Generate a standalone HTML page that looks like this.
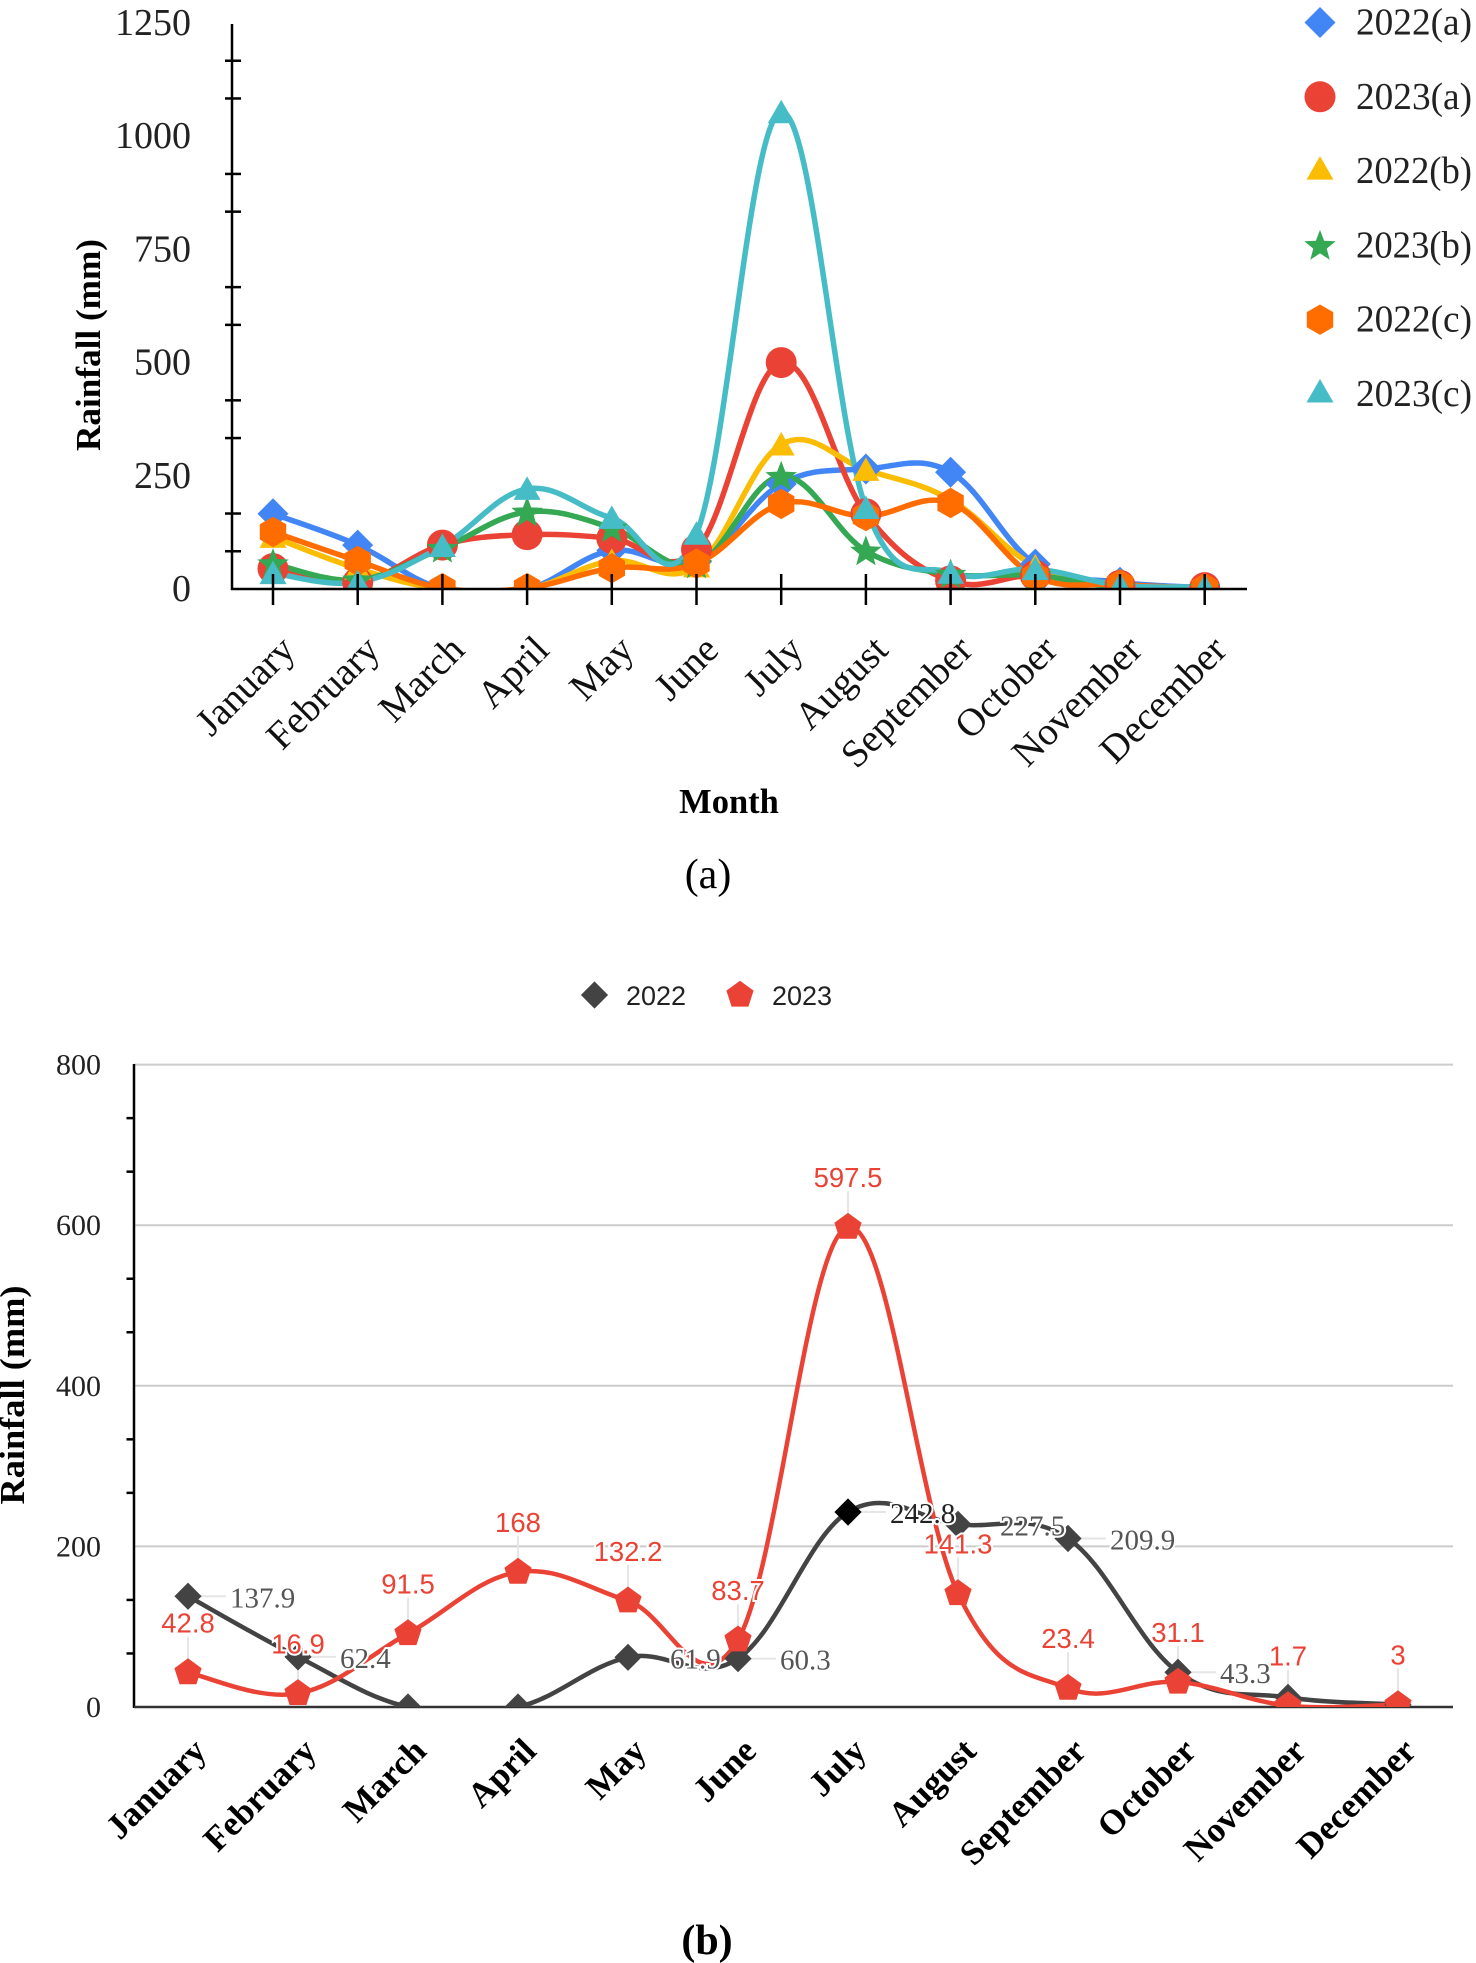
<!DOCTYPE html>
<html lang="en">
<head>
<meta charset="utf-8">
<title>Monthly rainfall charts</title>
<style>
html,body{margin:0;padding:0;background:#fff;width:1476px;height:1963px;overflow:hidden}
svg{display:block}
.serif{font-family:"Liberation Serif",serif}
.sans{font-family:"Liberation Sans",sans-serif}
</style>
</head>
<body>
<svg id="root" xmlns="http://www.w3.org/2000/svg" width="1476" height="1963" viewBox="0 0 1476 1963">
  <defs>
    <clipPath id="clipA"><rect x="0" y="0" width="1476" height="589"></rect></clipPath>
    <clipPath id="clipB"><rect x="0" y="0" width="1476" height="1707"></rect></clipPath>
  </defs>
  <g id="chartA"></g>
  <g id="chartB"></g>
  <text class="serif" transform="translate(100,345) rotate(-90)" text-anchor="middle" font-size="35" font-weight="bold" textLength="212" lengthAdjust="spacingAndGlyphs" fill="#000">Rainfall (mm)</text>
  <text class="serif" x="729" y="813" text-anchor="middle" font-size="34.5" font-weight="bold" fill="#000">Month</text>
  <text class="serif" x="708" y="888" text-anchor="middle" font-size="42" fill="#000">(a)</text>
  <text class="serif" transform="translate(24,1395) rotate(-90)" text-anchor="middle" font-size="35" font-weight="bold" textLength="219" lengthAdjust="spacingAndGlyphs" fill="#000">Rainfall (mm)</text>
  <text class="serif" x="707" y="1954" text-anchor="middle" font-size="42" font-weight="bold" fill="#000">(b)</text>
</svg>
<script>
var months = ["January","February","March","April","May","June","July","August","September","October","November","December"];

var a2022a = [166, 97, 0, 0, 85, 60, 232, 265, 258, 55, 15, 3];
var a2023a = [45, 14, 97, 120, 112, 87, 500, 166, 18, 30, 8, 3];
var a2022b = [115, 45, 0, 0, 62, 50, 319, 263, 197, 50, 10, 2];
var a2023b = [56, 20, 90, 170, 135, 55, 249, 84, 33, 30, 3, 2];
var a2022c = [126, 62, 2, 2, 46, 56, 188, 161, 190, 28, 10, 2];
var a2023c = [35, 15, 95, 221, 157, 122, 1053, 179, 36, 44, 8, 5];
var aTicks = [0, 250, 500, 750, 1000, 1250];

var b2022 = [137.9, 62.4, 0, 0, 61.9, 60.3, 242.8, 227.5, 209.9, 43.3, 12, 3];
var b2023 = [42.8, 16.9, 91.5, 168, 132.2, 83.7, 597.5, 141.3, 23.4, 31.1, 1.7, 3];
var b2022Labels = ["137.9", "62.4", "", "", "61.9", "60.3", "242.8", "227.5", "209.9", "43.3", "", ""];
var b2023Labels = ["42.8", "16.9", "91.5", "168", "132.2", "83.7", "597.5", "141.3", "23.4", "31.1", "1.7", "3"];
var bTicks = [0, 200, 400, 600, 800];

var NS = "http://www.w3.org/2000/svg";
var SMOOTH = 5.5;

function xA(i){ return 273 + 84.7 * i; }
function yA(v){ return 589 - v * 0.4528; }
function xB(i){ return 188 + 110.0 * i; }
function yB(v){ return 1707 - v * 0.803; }

function mk(parent, tag, attrs, txt){
  var el = document.createElementNS(NS, tag);
  for (var k in attrs) el.setAttribute(k, attrs[k]);
  if (txt !== undefined) el.textContent = txt;
  parent.appendChild(el);
  return el;
}
function smoothPath(vals, fx, fy){
  var p = vals.map(function(v,i){ return [fx(i), fy(v)]; });
  var d = "M" + p[0][0] + " " + p[0][1];
  function tan(i){
    var a = p[Math.max(i-1,0)], b = p[Math.min(i+1,p.length-1)];
    return [(b[0]-a[0])/SMOOTH, (b[1]-a[1])/SMOOTH];
  }
  for (var i=0;i<p.length-1;i++){
    var t0 = tan(i), t1 = tan(i+1);
    d += " C" + (p[i][0]+t0[0]) + " " + (p[i][1]+t0[1]) + " " + (p[i+1][0]-t1[0]) + " " + (p[i+1][1]-t1[1]) + " " + p[i+1][0] + " " + p[i+1][1];
  }
  return d;
}
function regular(cx, cy, n, r, rot){
  var s = [];
  for (var i=0;i<n;i++){
    var a = rot + i*2*Math.PI/n;
    s.push((cx+r*Math.cos(a)).toFixed(1)+","+(cy+r*Math.sin(a)).toFixed(1));
  }
  return s.join(" ");
}
function starPts(cx, cy, R, r){
  var s = [];
  for (var i=0;i<10;i++){
    var a = -Math.PI/2 + i*Math.PI/5, q = i%2 ? r : R;
    s.push((cx+q*Math.cos(a)).toFixed(1)+","+(cy+q*Math.sin(a)).toFixed(1));
  }
  return s.join(" ");
}
function marker(parent, shape, cx, cy, color, scale){
  var k = scale || 1;
  if (shape === "circle") return mk(parent, "circle", {cx:cx, cy:cy, r:15.5*k, fill:color});
  var pts = "";
  if (shape === "diamond") pts = regular(cx, cy, 4, 15.5*k, -Math.PI/2);
  if (shape === "triangle") pts = (cx)+","+(cy-12.5*k)+" "+(cx+13.5*k)+","+(cy+11*k)+" "+(cx-13.5*k)+","+(cy+11*k);
  if (shape === "star") pts = starPts(cx, cy+1, 16.5*k, 7*k);
  if (shape === "hexagon") pts = regular(cx, cy, 6, 15.2*k, -Math.PI/2);
  if (shape === "pentagon") pts = regular(cx, cy, 5, 14.3*k, -Math.PI/2);
  return mk(parent, "polygon", {points:pts, fill:color});
}

/* ---------- chart A ---------- */
var seriesA = [
  {id:"2022-a", label:"2022(a)", vals:a2022a, color:"#4285f4", shape:"diamond"},
  {id:"2023-a", label:"2023(a)", vals:a2023a, color:"#ea4335", shape:"circle"},
  {id:"2022-b", label:"2022(b)", vals:a2022b, color:"#fbbc04", shape:"triangle"},
  {id:"2023-b", label:"2023(b)", vals:a2023b, color:"#34a853", shape:"star"},
  {id:"2022-c", label:"2022(c)", vals:a2022c, color:"#ff6d01", shape:"hexagon"},
  {id:"2023-c", label:"2023(c)", vals:a2023c, color:"#46bdc6", shape:"triangle"}
];
var gA = document.getElementById("chartA");
var plotA = mk(gA, "g", {"clip-path":"url(#clipA)"});


seriesA.forEach(function(s){
  var line = mk(plotA, "path", {d:smoothPath(s.vals, xA, yA), fill:"none", stroke:s.color, "stroke-width":5.5, "stroke-linejoin":"round"});
  
  
});
seriesA.forEach(function(s){
  s.vals.forEach(function(v,i){
    var m = marker(plotA, s.shape, xA(i), yA(v), s.color);
    
    
  });
});
var axA = mk(gA, "g", {stroke:"#000", "stroke-width":2.5});


mk(axA, "line", {x1:232, y1:24, x2:232, y2:590});
mk(axA, "line", {x1:231, y1:589, x2:1247, y2:589});
for (var t=0;t<aTicks.length-1;t++){
  for (var j=1;j<=2;j++){
    var tv = aTicks[t] + (aTicks[t+1]-aTicks[t])*j/3;
    var tk = mk(axA, "line", {x1:225, x2:241, y1:yA(tv), y2:yA(tv)});
    
    
  }
}
months.forEach(function(m,i){
  var tk = mk(axA, "line", {x1:xA(i), x2:xA(i), y1:574, y2:605});
  
  
  var lb = mk(gA, "text", {"class":"serif", transform:"translate("+(xA(i)+24)+",652) rotate(-45)", "text-anchor":"end", "font-size":39, fill:"#111"}, m);
  
  
});
aTicks.forEach(function(v){
  var lb = mk(gA, "text", {"class":"serif", x:191, y:yA(v)+12, "text-anchor":"end", "font-size":38, fill:"#222"}, String(v));
  
  
});
seriesA.forEach(function(s,i){
  var ly = 22.5 + 74.3*i;
  var sw = marker(gA, s.shape, 1320, s.shape === "triangle" ? ly - 2.5 : ly, s.color);
  
  
  var tx = mk(gA, "text", {"class":"serif", x:1356, y:ly+12, "font-size":38, textLength:116, lengthAdjust:"spacingAndGlyphs", fill:"#222"}, s.label);
  
  
});

/* ---------- chart B ---------- */
var gB = document.getElementById("chartB");
bTicks.forEach(function(v){
  if (v === 0) return;
  var gl = mk(gB, "line", {x1:134, x2:1453, y1:yB(v), y2:yB(v), stroke:"#cccccc", "stroke-width":2});
  
  
});
var axB = mk(gB, "g", {stroke:"#000", "stroke-width":2.5});


mk(axB, "line", {x1:134, y1:1064, x2:134, y2:1708});
for (var t2=0;t2<bTicks.length-1;t2++){
  for (var j2=1;j2<=2;j2++){
    var tv2 = bTicks[t2] + (bTicks[t2+1]-bTicks[t2])*j2/3;
    var tk2 = mk(axB, "line", {x1:126.5, x2:135, y1:yB(tv2), y2:yB(tv2)});
    
    
  }
}
var baseB = mk(gB, "line", {x1:134, x2:1453, y1:1707, y2:1707, stroke:"#333", "stroke-width":2.5});



var leaders = mk(gB, "g", {stroke:"#e6e6e6", "stroke-width":2});


b2022Labels.forEach(function(t,i){
  if (t) mk(leaders, "line", {x1:xB(i), x2:xB(i)+38, y1:yB(b2022[i]), y2:yB(b2022[i])});
});
b2023Labels.forEach(function(t,i){
  mk(leaders, "line", {x1:xB(i), x2:xB(i), y1:yB(b2023[i]), y2:yB(b2023[i])-36});
});

var plotB = mk(gB, "g", {"clip-path":"url(#clipB)"});


var line22 = mk(plotB, "path", {d:smoothPath(b2022, xB, yB), fill:"none", stroke:"#434343", "stroke-width":4.5});


var line23 = mk(plotB, "path", {d:smoothPath(b2023, xB, yB), fill:"none", stroke:"#ea4335", "stroke-width":4.5});


b2022.forEach(function(v,i){
  var m = marker(plotB, "diamond", xB(i), yB(v), i === 6 ? "#000000" : "#434343", 0.88);
  
  
});
b2023.forEach(function(v,i){
  var m = marker(plotB, "pentagon", xB(i), yB(v), "#ea4335");
  
  
});
b2022Labels.forEach(function(t,i){
  if (!t) return;
  var lb = mk(gB, "text", {"class":"serif", x:xB(i)+42, y:yB(b2022[i])+11, "font-size":29, fill:i===6?"#222":"#555", stroke:"#fff", "stroke-width":4, "paint-order":"stroke"}, t);
  
  
});
b2023Labels.forEach(function(t,i){
  var lb = mk(gB, "text", {"class":"sans", x:xB(i), y:yB(b2023[i])-40, "text-anchor":"middle", "font-size":27.5, fill:"#ea4335", stroke:"#fff", "stroke-width":4, "paint-order":"stroke"}, t);
  
  
});
bTicks.forEach(function(v){
  var lb = mk(gB, "text", {"class":"serif", x:101, y:yB(v)+10, "text-anchor":"end", "font-size":30, fill:"#222"}, String(v));
  
  
});
months.forEach(function(m,i){
  var lb = mk(gB, "text", {"class":"serif", transform:"translate("+(xB(i)+20)+",1753) rotate(-45)", "text-anchor":"end", "font-size":35, "font-weight":"bold", fill:"#000"}, m);
  
  
});
var lm22 = marker(gB, "diamond", 594.5, 995, "#434343", 0.88);


var lt22 = mk(gB, "text", {"class":"sans", x:626, y:1005, "font-size":27, fill:"#222"}, "2022");


var lm23 = marker(gB, "pentagon", 740, 995, "#ea4335");


var lt23 = mk(gB, "text", {"class":"sans", x:772, y:1005, "font-size":27, fill:"#222"}, "2023");


</script>
</body>
</html>
